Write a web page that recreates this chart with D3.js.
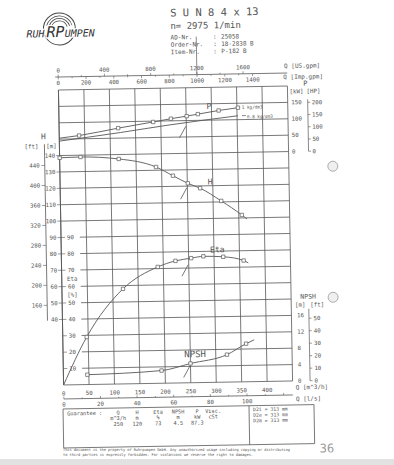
<!DOCTYPE html>
<html>
<head>
<meta charset="utf-8">
<script src="https://cdn.jsdelivr.net/npm/d3@7"></script>
<style>
  body { margin: 0; background: #fff; }
  text { font-family: "DejaVu Sans Mono", monospace; fill: #555; }
</style>
</head>
<body>
<div class="chart"></div>
<script>
// curves, Q in m3/h
const qHead = [0, 41, 116, 189, 222, 251, 275, 316, 356, 366];
const headM = [138.6, 138.9, 137.3, 132, 126.5, 121.7, 118.6, 110.6, 101.8, 99.3];
const headMarks = [0, 1, 2, 3, 4, 5, 6, 7, 8];

const qEta = [0, 47, 120, 189, 224, 255, 279, 318, 358, 367];
const etaPct = [0, 29, 58, 71, 74.5, 76, 77, 76.5, 74, 72.5];
const etaMarks = [1, 2, 3, 4, 5, 6, 7, 8];

const qPow = [0, 39, 116, 185, 220, 251, 273, 314, 352];
const powKw = [53, 60, 80.5, 97.5, 106.5, 113.5, 119, 129, 136.5];
const powMarks = [1, 2, 3, 4, 5, 6, 7, 8];

const qPowLow = [0, 120, 214, 352];
const powLowKw = [44, 67, 87, 112];

const qNpsh = [47, 193, 250, 322, 360, 376];
const npshM = [2.4, 3.1, 4.7, 6.7, 9.3, 10.2];
const npshMarks = [0, 1, 2, 3, 4];

// guarantee point
const guarQ = 250, guarH = 120, guarEta = 73, guarNpsh = 4.5, guarP = 87.3;

// axis ticks
const qTicksM3h = [0, 50, 100, 150, 200, 250, 300, 350, 400];
const qTicksLs = [0, 20, 40, 60, 80, 100];
const qTicksUS = [0, 400, 800, 1200, 1600];
const qTicksImp = [0, 200, 400, 600, 800, 1000, 1200, 1400];
const headTicksM = [140, 130, 120, 110, 100, 90, 80, 70, 60, 50, 40];
const headTicksFt = [440, 400, 360, 320, 280, 240, 200, 160];
const etaTicks = [90, 80, 70, 60, 50, 40, 30, 20, 10];
const powTicksKw = [150, 100, 50, 0];
const powTicksHp = [200, 150, 100, 50, 0];
const npshTicksM = [16, 12, 8, 4, 0];
const npshTicksFt = [50, 40, 30, 20, 10, 0];

const guarHead = ['Q', 'H', 'Eta', 'NPSH', 'P', 'Visc.'];
const guarUnits = ['m^3/h', 'm', '%', 'm', 'kW', 'cSt'];
const guarVals = ['250', '120', '73', '4.5', '87.3', ''];
const impeller = ['D2i  = 313 mm', 'D2e  = 313 mm', 'D2m  = 313 mm'];

const ink = '#585858';

const x = d3.scaleLinear().domain([0, 450]).range([61, 290]);
const y = d3.scaleLinear().domain([0, 180]).range([383, 88]);
const yPow = kw => y(140 + kw / 5);
const yNpsh = m => y(m * 2.5);

const svg = d3.select('.chart').append('svg')
  .attr('width', 394).attr('height', 465);
svg.append('rect').attr('width', 394).attr('height', 465).attr('fill', '#fff');
svg.append('rect').attr('y', 459).attr('width', 394).attr('height', 6).attr('fill', '#e2e2e2');

// the scan is a little skewed
const g = svg.append('g').attr('transform', 'rotate(-1,175,235)');

function txt(px, py, s, size, anchor) {
  return g.append('text').attr('x', px).attr('y', py)
    .attr('font-size', size).attr('text-anchor', anchor || 'start').text(s);
}
function seg(x1, y1, x2, y2, w) {
  return g.append('line').attr('x1', x1).attr('y1', y1).attr('x2', x2).attr('y2', y2)
    .attr('stroke', ink).attr('stroke-width', w || 0.8);
}

// logo
const logo = g.append('g').attr('transform', 'translate(63,27)');
logo.append('circle').attr('r', 16).attr('fill', 'none').attr('stroke', '#444').attr('stroke-width', 1);
[13.5, 11, 8.5].forEach(r => {
  logo.append('path')
    .attr('d', d3.arc().innerRadius(r - 0.7).outerRadius(r).startAngle(-1.3).endAngle(1.3)())
    .attr('fill', '#444');
});
const brand = g.append('text').attr('x', 30).attr('y', 35)
  .attr('font-family', 'DejaVu Sans').attr('font-style', 'italic')
  .attr('stroke', '#fff').attr('stroke-width', 2.5).attr('paint-order', 'stroke')
  .style('fill', '#333');
brand.append('tspan').attr('font-size', 10).text('RUH');
brand.append('tspan').attr('font-size', 15).attr('dx', 2).text('RP');
brand.append('tspan').attr('font-size', 10).text('UMPEN');

// header
txt(174, 16.5, 'S U N 8  4 x 13', 10.5);
txt(174, 29, 'n= 2975 1/min', 9);
[['AD-Nr.', '25058'], ['Order-Nr.', '18-2838 B'], ['Item-Nr.', 'P-182 B']].forEach((r, i) => {
  txt(174, 39.5 + i * 7.3, r[0], 6);
  txt(216.5, 39.5 + i * 7.3, ':', 6);
  txt(224.5, 39.5 + i * 7.3, r[1], 6);
});

// grid
d3.range(0, 451, 50).forEach(v => seg(x(v), y(180), x(v), y(0), 0.8));
d3.range(0, 181, 10).forEach(v => {
  const x0 = (v > 0 && v <= 90) ? x(37) : x(0);
  seg(x0, y(v), x(450), y(v), 0.8);
});
seg(x(0), y(180), x(0), y(0), 0.9);

// top flow axes
const topY = 75;
seg(58, topY, x(450), topY, 0.8);
seg(x(1200 * 0.2271), topY, x(1200 * 0.2271), 37, 0.7);
d3.range(0, 1601, 200).forEach(v => seg(x(v * 0.2271), topY, x(v * 0.2271), topY - (v % 400 ? 1.5 : 2.5), 0.6));
d3.range(0, 1401, 100).forEach(v => seg(x(v * 0.2728), topY, x(v * 0.2728), topY + (v % 200 ? 1.5 : 2.5), 0.6));
qTicksUS.forEach(v => txt(x(v * 0.2271), 70.5, v, 5.8, 'middle'));
qTicksImp.forEach(v => txt(x(v * 0.2728), 83, v, 5.8, 'middle'));
txt(287, 70, 'Q [US.gpm]', 6);
txt(286, 81, 'Q [Imp.gpm]', 6);

// bottom flow axes
qTicksM3h.forEach(v => txt(x(v), 393.5, v, 5.8, 'middle'));
txt(293, 391.5, 'Q [m^3/h]', 6);
seg(x(0), 397, x(450), 397, 0.8);
d3.range(0, 121, 10).forEach(v => {
  if (x(v * 3.6) <= x(450)) seg(x(v * 3.6), 397, x(v * 3.6), 397 - (v % 20 ? 1.3 : 2.3), 0.6);
});
qTicksLs.forEach(v => txt(x(v * 3.6), 404.5, v, 5.8, 'middle'));
txt(293, 403, 'Q [l/s]', 6);

// left: head in ft and m, efficiency
txt(45, 137, 'H', 8, 'middle');
txt(33, 146, '[ft]', 5.8, 'middle');
txt(53, 146, '[m]', 5.8, 'middle');
seg(46, 142, 46, y(40) + 1, 0.8);
headTicksFt.forEach(v => {
  seg(42.5, y(v * 0.3048), 46, y(v * 0.3048), 0.6);
  txt(41, y(v * 0.3048) + 2, v, 5.8, 'end');
});
headTicksM.forEach(v => {
  seg(57.5, y(v), 61, y(v), 0.6);
  txt(56.5, y(v) + 2, v, 5.8, 'end');
});
etaTicks.forEach(v => {
  seg(61, y(v), 65, y(v), 0.6);
  txt(67, y(v) + 2, v, 5.8);
});
txt(71.5, 279, 'Eta', 5.8, 'middle');
txt(71.5, 295, '[%]', 5.8, 'middle');

// right: power and NPSH
txt(308, 88, 'P', 7, 'middle');
txt(299, 95.5, '[kW]', 5.8, 'middle');
txt(316, 95.5, '[HP]', 5.8, 'middle');
powTicksKw.forEach(v => txt(293.5, yPow(v) + 2, v, 5.8));
seg(310, yPow(200 * 0.7457) - 3, 310, yPow(0), 0.7);
powTicksHp.forEach(v => {
  seg(310, yPow(v * 0.7457), 312.5, yPow(v * 0.7457), 0.6);
  txt(314, yPow(v * 0.7457) + 2, v, 5.8);
});
txt(307, 301, 'NPSH', 6.5, 'middle');
txt(299, 309, '[m]', 5.8, 'middle');
txt(316, 309, '[ft]', 5.8, 'middle');
npshTicksM.forEach(v => txt(295.5, yNpsh(v) + 2, v, 5.8));
seg(307.5, 311, 307.5, yNpsh(0), 0.7);
npshTicksFt.forEach(v => {
  seg(307.5, yNpsh(v * 0.3048), 310, yNpsh(v * 0.3048), 0.6);
  txt(312, yNpsh(v * 0.3048) + 2, v, 5.8);
});

// punch holes
[[334, 169], [332, 300]].forEach(p => g.append('circle')
  .attr('cx', p[0]).attr('cy', p[1]).attr('r', 5)
  .attr('fill', '#efefef').attr('stroke', '#999').attr('stroke-width', 0.8));

// curves
function drawCurve(qs, vs, yf, marks) {
  const line = d3.line()
    .x(i => x(qs[i])).y(i => yf(vs[i]))
    .curve(d3.curveMonotoneX);
  g.append('path').attr('d', line(d3.range(qs.length)))
    .attr('fill', 'none').attr('stroke', ink).attr('stroke-width', 0.9);
  (marks || []).forEach(i => g.append('rect')
    .attr('x', x(qs[i]) - 1.7).attr('y', yf(vs[i]) - 1.7)
    .attr('width', 3.4).attr('height', 3.4)
    .attr('fill', '#fff').attr('stroke', ink).attr('stroke-width', 0.7));
}
drawCurve(qHead, headM, y, headMarks);
drawCurve(qEta, etaPct, y, etaMarks);
drawCurve(qPow, powKw, yPow, powMarks);
drawCurve(qPowLow, powLowKw, yPow, []);
drawCurve(qNpsh, npshM, yNpsh, npshMarks);

// guarantee arrows
[y(guarH), y(guarEta), yPow(guarP), yNpsh(guarNpsh)].forEach(py => {
  seg(x(guarQ) - 7, py + 13, x(guarQ) - 0.5, py + 1.5, 0.8);
});

// curve names
txt(211, 109.5, 'P', 8, 'middle');
txt(211, 185, 'H', 8, 'middle');
txt(217, 253, 'Eta', 8, 'middle');
txt(193, 357.5, 'NPSH', 9, 'middle');
txt(244, 110, '1 kg/dm3', 4.3);
seg(244, yPow(112), 248, yPow(112), 0.7);
txt(249, 119.5, '0.8 kg/dm3', 4.3);

// guarantee table
g.append('rect').attr('x', 60).attr('y', 407).attr('width', 251).attr('height', 39)
  .attr('fill', 'none').attr('stroke', ink).attr('stroke-width', 0.8);
seg(246, 407, 246, 446, 0.8);
txt(64, 413.5, 'Guarantee  :', 5.3);
const colX = [115, 134, 155, 175, 194, 210];
guarHead.forEach((s, i) => txt(colX[i], 413.5, s, 5.3, 'middle'));
guarUnits.forEach((s, i) => txt(colX[i], 419, s, 5.3, 'middle'));
guarVals.forEach((s, i) => txt(colX[i], 425, s, 5.3, 'middle'));
impeller.forEach((s, i) => txt(250, 412.5 + i * 5.6, s, 4.8));

// footer, kept level so the two lines stay apart
svg.append('text').attr('x', 63).attr('y', 450.5).attr('font-size', 3.9)
  .attr('font-family', 'Liberation Sans').attr('textLength', 227).attr('lengthAdjust', 'spacingAndGlyphs')
  .text('This document is the property of Ruhrpumpen GmbH. Any unauthorized usage including copying or distributing');
svg.append('text').attr('x', 63).attr('y', 456).attr('font-size', 3.9)
  .attr('font-family', 'Liberation Sans').attr('textLength', 190).attr('lengthAdjust', 'spacingAndGlyphs')
  .text('to third parties is expressly forbidden. For violations we reserve the right to damages.');
g.append('text').attr('x', 316).attr('y', 455).attr('font-size', 12)
  .attr('font-family', 'DejaVu Sans').style('fill', '#999').text('36');
</script>
</body>
</html>
